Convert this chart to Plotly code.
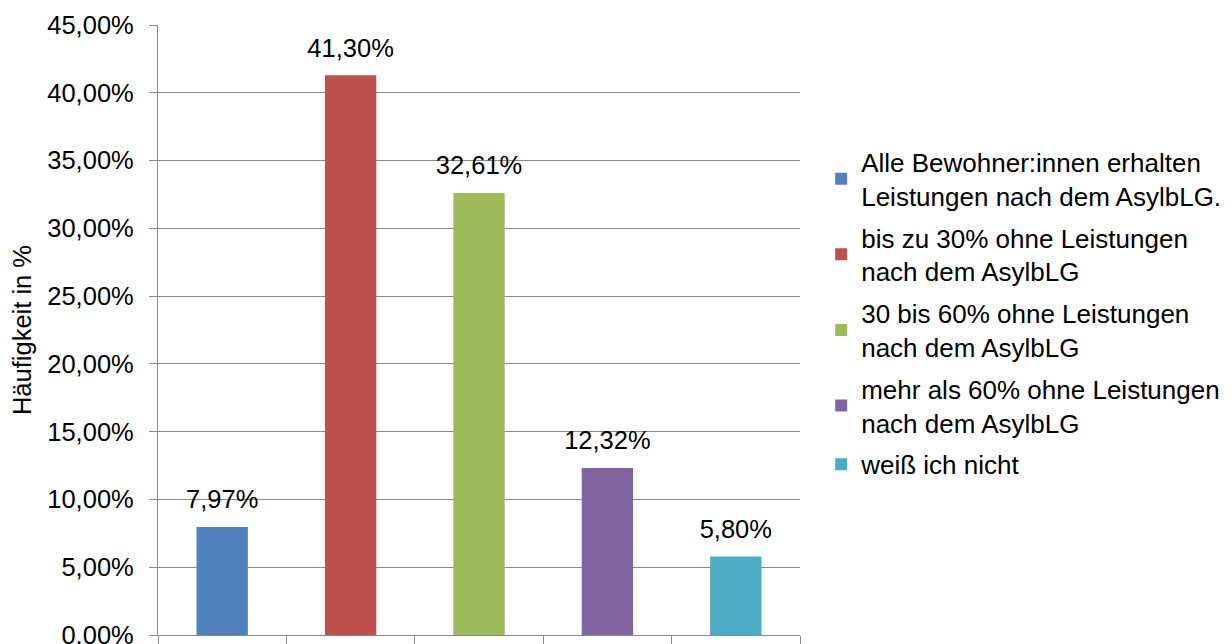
import plotly.graph_objects as go

categories = [
    "Alle Bewohner:innen erhalten<br>Leistungen nach dem AsylbLG.",
    "bis zu 30% ohne Leistungen<br>nach dem AsylbLG",
    "30 bis 60% ohne Leistungen<br>nach dem AsylbLG",
    "mehr als 60% ohne Leistungen<br>nach dem AsylbLG",
    "weiß ich nicht",
]
values = [0.0797, 0.4130, 0.3261, 0.1232, 0.0580]
colors = ["#4F81BD", "#C0504D", "#9BBB59", "#8064A2", "#4BACC6"]
y_title = "Häufigkeit in %"

FONT = "Liberation Sans, Arial, sans-serif"
GRID = "#898989"
FS = 25.5
LFS = 26

fig = go.Figure()
for i, (cat, val, col) in enumerate(zip(categories, values, colors)):
    fig.add_trace(go.Bar(
        x=[i], y=[val], name=cat,
        marker=dict(color=col, line=dict(width=0)),
        width=0.4,
        hovertemplate="%{y:.2%}<extra></extra>",
        legendgroup=f"g{i}",
    ))

# data labels (invisible markers give the label a little extra lift above the bars)
fig.add_trace(go.Scatter(
    x=list(range(len(values))), y=values,
    mode="markers+text",
    marker=dict(size=18, opacity=0),
    texttemplate="%{y:.2%}", textposition="top center",
    textfont=dict(size=FS, color="#000000", family=FONT),
    cliponaxis=False, showlegend=False, hoverinfo="skip",
))

# page has an 8px body margin; plot area targeted at page x 158..800, y 25..635
fig.update_layout(
    width=1232, height=644,
    margin=dict(l=150, r=440, t=17, b=17, autoexpand=False),
    paper_bgcolor="white", plot_bgcolor="white",
    separators=",.",
    barmode="overlay",
    font=dict(family=FONT, size=FS, color="#000000"),
    showlegend=True,
    legend=dict(
        x=1.033, xanchor="left", y=0.814, yanchor="top",
        font=dict(size=LFS, color="#000000", family=FONT),
        tracegroupgap=5, itemwidth=30,
        bgcolor="rgba(0,0,0,0)",
    ),
)
fig.update_xaxes(
    type="linear", range=[-0.5, 4.5],
    showgrid=False, zeroline=False,
    showticklabels=False,
    tickmode="array", tickvals=[-0.5, 0.5, 1.5, 2.5, 3.5, 4.5],
    ticks="outside", ticklen=10, tickcolor=GRID, tickwidth=1.3,
    showline=True, linecolor=GRID, linewidth=1.3,
)
fig.update_yaxes(
    range=[0, 0.45], dtick=0.05, tick0=0,
    tickformat=".2%",
    showgrid=True, gridcolor=GRID, gridwidth=1.3,
    zeroline=False,
    ticks="outside", ticklen=8, tickcolor=GRID, tickwidth=1.3,
    ticklabelstandoff=10,
    showline=True, linecolor=GRID, linewidth=1.3,
    tickfont=dict(size=FS, color="#000000", family=FONT),
    title=dict(text=y_title, font=dict(size=FS, color="#000000", family=FONT), standoff=13),
)

fig.write_html("out.html")
